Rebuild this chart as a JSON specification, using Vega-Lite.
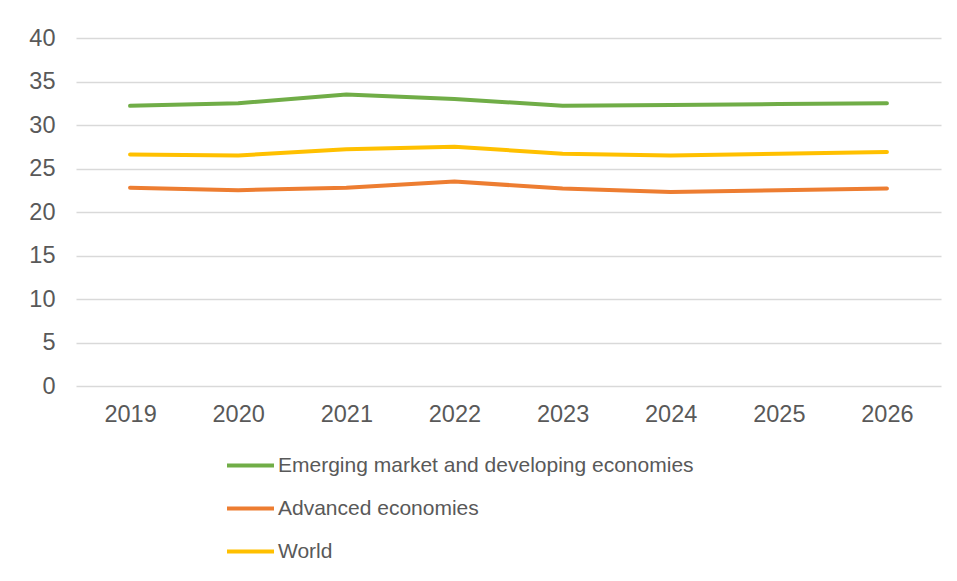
{
  "$schema": "https://vega.github.io/schema/vega-lite/v6.json",
  "width": 865,
  "height": 348,
  "autosize": {"type": "none"},
  "padding": {"left": 76, "top": 38, "right": 16, "bottom": 195},
  "background": "white",
  "config": {
    "view": {"stroke": null},
    "font": "Liberation Sans",
    "axis": {"labelFont": "Liberation Sans", "labelColor": "#595959", "labelFontSize": 23.5, "ticks": false, "domain": false, "grid": false, "title": null}
  },
  "data": {
    "values": [
      {"year": "2019", "series": "Emerging market and developing economies", "value": 32.2},
      {"year": "2020", "series": "Emerging market and developing economies", "value": 32.5},
      {"year": "2021", "series": "Emerging market and developing economies", "value": 33.5},
      {"year": "2022", "series": "Emerging market and developing economies", "value": 33.0},
      {"year": "2023", "series": "Emerging market and developing economies", "value": 32.2},
      {"year": "2024", "series": "Emerging market and developing economies", "value": 32.3},
      {"year": "2025", "series": "Emerging market and developing economies", "value": 32.4},
      {"year": "2026", "series": "Emerging market and developing economies", "value": 32.5},
      {"year": "2019", "series": "Advanced economies", "value": 22.8},
      {"year": "2020", "series": "Advanced economies", "value": 22.5},
      {"year": "2021", "series": "Advanced economies", "value": 22.8},
      {"year": "2022", "series": "Advanced economies", "value": 23.5},
      {"year": "2023", "series": "Advanced economies", "value": 22.7},
      {"year": "2024", "series": "Advanced economies", "value": 22.3},
      {"year": "2025", "series": "Advanced economies", "value": 22.5},
      {"year": "2026", "series": "Advanced economies", "value": 22.7},
      {"year": "2019", "series": "World", "value": 26.6},
      {"year": "2020", "series": "World", "value": 26.5},
      {"year": "2021", "series": "World", "value": 27.2},
      {"year": "2022", "series": "World", "value": 27.5},
      {"year": "2023", "series": "World", "value": 26.7},
      {"year": "2024", "series": "World", "value": 26.5},
      {"year": "2025", "series": "World", "value": 26.7},
      {"year": "2026", "series": "World", "value": 26.9}
    ]
  },
  "mark": {"type": "line", "strokeWidth": 4, "strokeCap": "round", "strokeJoin": "round"},
  "encoding": {
    "x": {
      "field": "year", "type": "ordinal",
      "scale": {"type": "point", "padding": 0.5},
      "axis": {"labelAngle": 0, "labelPadding": 16}
    },
    "y": {
      "field": "value", "type": "quantitative",
      "scale": {"domain": [0, 40], "nice": false, "zero": true},
      "axis": {"values": [0, 5, 10, 15, 20, 25, 30, 35, 40], "grid": true, "gridColor": "#d9d9d9", "gridWidth": 1.5, "labelPadding": 21}
    },
    "color": {
      "field": "series", "type": "nominal",
      "scale": {
        "domain": ["Emerging market and developing economies", "Advanced economies", "World"],
        "range": ["#70AD47", "#ED7D31", "#FFC000"]
      },
      "legend": {
        "title": null,
        "orient": "none",
        "legendX": 149,
        "legendY": 402,
        "direction": "vertical",
        "symbolType": "stroke",
        "symbolSize": 2209,
        "symbolStrokeWidth": 4,
        "labelFont": "Liberation Sans",
        "labelFontSize": 21,
        "labelColor": "#595959",
        "labelOffset": 2,
        "rowPadding": 7,
        "labelLimit": 600
      }
    }
  }
}
